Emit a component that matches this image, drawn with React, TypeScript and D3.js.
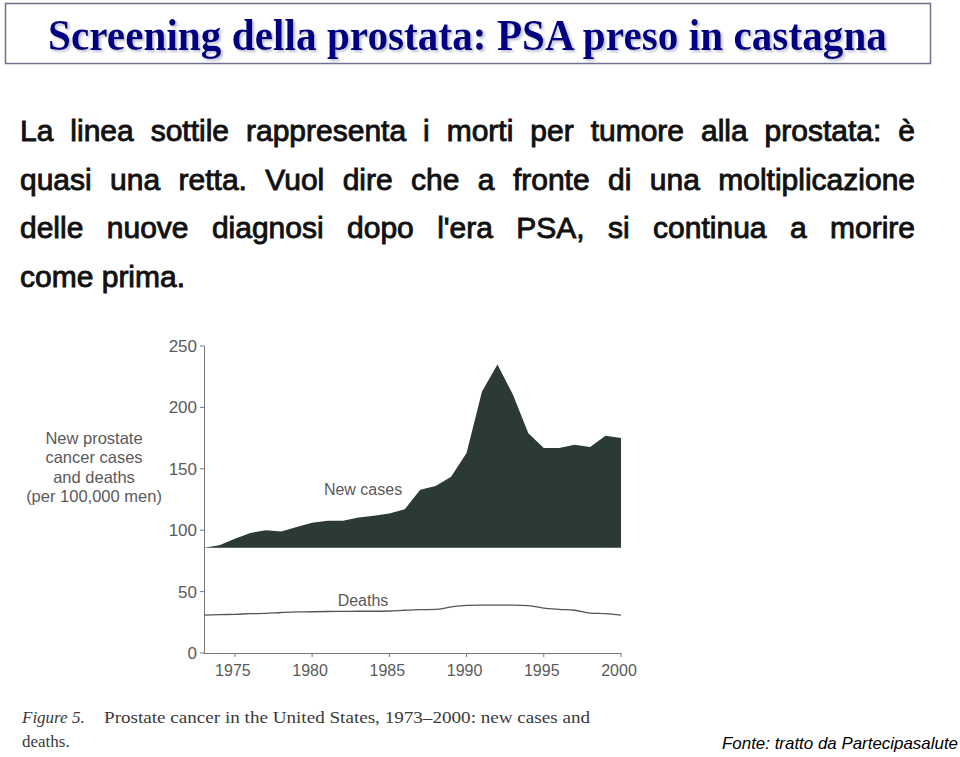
import React, { useLayoutEffect, useRef } from "react";
import * as d3 from "d3";

const years = [1973, 1974, 1975, 1976, 1977, 1978, 1979, 1980, 1981, 1982, 1983, 1984, 1985, 1986, 1987, 1988, 1989, 1990, 1991, 1992, 1993, 1994, 1995, 1996, 1997, 1998, 1999, 2000];
const newCases = [85.8, 87.7, 93, 97.8, 100, 99, 102.7, 106, 107.6, 107.6, 110.4, 111.7, 113.6, 117, 133, 136, 143.6, 162.8, 213, 235, 210.5, 179, 166.9, 166.9, 169.6, 167.7, 176.9, 175];
const deaths = [30.9, 31.2, 31.5, 32, 32.3, 33, 33.5, 33.6, 33.8, 33.9, 34, 34, 34.2, 34.8, 35.3, 35.5, 37.5, 38.8, 39, 39, 39, 38.6, 36.5, 35.5, 34.8, 32.5, 32, 30.8];
const yTicks = [0, 50, 100, 150, 200, 250];
const xTicks = [1975, 1980, 1985, 1990, 1995, 2000];

const titleText = "Screening della prostata: PSA preso in castagna";
const paragraphLines = [
  "La linea sottile rappresenta i morti per tumore alla prostata: è",
  "quasi una retta. Vuol dire che a fronte di una moltiplicazione",
  "delle nuove diagnosi dopo l'era PSA, si continua a morire",
  "come prima.",
];
const yAxisTitle = ["New prostate", "cancer cases", "and deaths", "(per 100,000 men)"];
const seriesLabels = ["New cases", "Deaths"];
const captionLabel = "Figure 5.";
const captionLine1 = "Prostate cancer in the United States, 1973–2000: new cases and";
const captionLine2 = "deaths.";
const sourceText = "Fonte: tratto da Partecipasalute";

export default function App() {
  const paraRef = useRef<SVGGElement>(null);

  const x = d3.scaleLinear().domain([1973, 2000]).range([204, 621]);
  const y = d3.scaleLinear().domain([0, 250]).range([653, 346]);
  const base = d3.min(newCases) as number;

  const area = d3
    .area<number>()
    .x((_, i) => x(years[i]))
    .y0(() => y(base))
    .y1((d) => y(d))
    .curve(d3.curveLinear);
  const line = d3
    .line<number>()
    .x((_, i) => x(years[i]))
    .y((d) => y(d))
    .curve(d3.curveMonotoneX);

  const paraLeft = 20;
  const paraRight = 915;

  useLayoutEffect(() => {
    const g = paraRef.current;
    if (!g) return;
    const texts = g.querySelectorAll("text");
    texts.forEach((t, i) => {
      if (i >= paragraphLines.length - 1) return;
      t.setAttribute("word-spacing", "0");
      const w = (t as SVGTextElement).getComputedTextLength();
      const spaces = (paragraphLines[i].match(/ /g) || []).length;
      const extra = (paraRight - paraLeft - w) / spaces;
      t.setAttribute("word-spacing", String(extra));
    });
  }, []);

  const gray = "#5a5a5a";

  return (
    <div style={{ position: "absolute", left: 0, top: 0 }}>
      <svg width={960} height={757} style={{ display: "block", background: "#ffffff" }}>
        <defs>
          <filter id="titleShadow" x="-5%" y="-20%" width="110%" height="150%">
            <feDropShadow dx={2} dy={2} stdDeviation={0.8} floodColor="#9090b0" floodOpacity={0.55} />
          </filter>
        </defs>
        {/* Title box */}
        <rect x={5.5} y={3.5} width={925} height={60} fill="#ffffff" stroke="#6e7290" strokeWidth={1.5} />
        <text
          x={48}
          y={50}
          fontFamily="'Liberation Serif', 'Times New Roman', serif"
          fontWeight="bold"
          fontSize={44}
          fill="#000080"
          textLength={839}
          lengthAdjust="spacingAndGlyphs"
          filter="url(#titleShadow)"
        >
          {titleText}
        </text>

        {/* Paragraph */}
        <g ref={paraRef} fontFamily="'Liberation Sans', Arial, sans-serif" fontSize={30} fill="#111" stroke="#111" strokeWidth={0.9}>
          {paragraphLines.map((l, i) => (
            <text key={i} x={paraLeft} y={141 + i * 48.5} style={{ whiteSpace: "pre" }}>
              {l}
            </text>
          ))}
        </g>

        {/* Y axis title */}
        <g fontFamily="'Liberation Sans', Arial, sans-serif" fontSize={16.5} fill={gray} textAnchor="middle">
          {yAxisTitle.map((l, i) => (
            <text key={i} x={94} y={444 + i * 19.3}>
              {l}
            </text>
          ))}
        </g>

        {/* New cases area */}
        <path d={area(newCases) || ""} fill="#2b3a35" />

        {/* Deaths line */}
        <path d={line(deaths) || ""} fill="none" stroke="#555" strokeWidth={1.3} />

        {/* Y axis */}
        <line x1={204.5} x2={204.5} y1={y(250)} y2={y(0)} stroke="#777" strokeWidth={1} />
        {yTicks.map((t) => (
          <g key={t}>
            <line x1={200} x2={204.5} y1={y(t)} y2={y(t)} stroke="#777" strokeWidth={1} />
            <text
              x={197}
              y={y(t) + 6}
              textAnchor="end"
              fontFamily="'Liberation Sans', Arial, sans-serif"
              fontSize={17}
              fill={gray}
            >
              {t}
            </text>
          </g>
        ))}

        {/* X axis */}
        <line x1={204} x2={x(2000)} y1={y(0) + 0.5} y2={y(0) + 0.5} stroke="#777" strokeWidth={1} />
        {xTicks.map((t) => (
          <g key={t}>
            <line x1={x(t)} x2={x(t)} y1={y(0)} y2={y(0) + 4} stroke="#777" strokeWidth={1} />
            <text
              x={x(t) - 2}
              y={676}
              textAnchor="middle"
              fontFamily="'Liberation Sans', Arial, sans-serif"
              fontSize={16}
              fill={gray}
            >
              {t}
            </text>
          </g>
        ))}

        {/* Series labels */}
        <text x={363} y={495} textAnchor="middle" fontFamily="'Liberation Sans', Arial, sans-serif" fontSize={16} fill={gray}>
          {seriesLabels[0]}
        </text>
        <text x={363} y={606} textAnchor="middle" fontFamily="'Liberation Sans', Arial, sans-serif" fontSize={16} fill={gray}>
          {seriesLabels[1]}
        </text>

        {/* Caption */}
        <g fontFamily="'Liberation Serif', 'Times New Roman', serif" fontSize={17} fill="#3a3a3a">
          <text x={22} y={723} fontStyle="italic">
            {captionLabel}
          </text>
          <text x={104} y={723} textLength={486} lengthAdjust="spacingAndGlyphs">
            {captionLine1}
          </text>
          <text x={22} y={747}>
            {captionLine2}
          </text>
        </g>

        {/* Source */}
        <text
          x={722}
          y={749}
          fontFamily="'Liberation Sans', Arial, sans-serif"
          fontStyle="italic"
          fontSize={17}
          fill="#000"
          textLength={236}
          lengthAdjust="spacingAndGlyphs"
        >
          {sourceText}
        </text>
      </svg>
    </div>
  );
}
